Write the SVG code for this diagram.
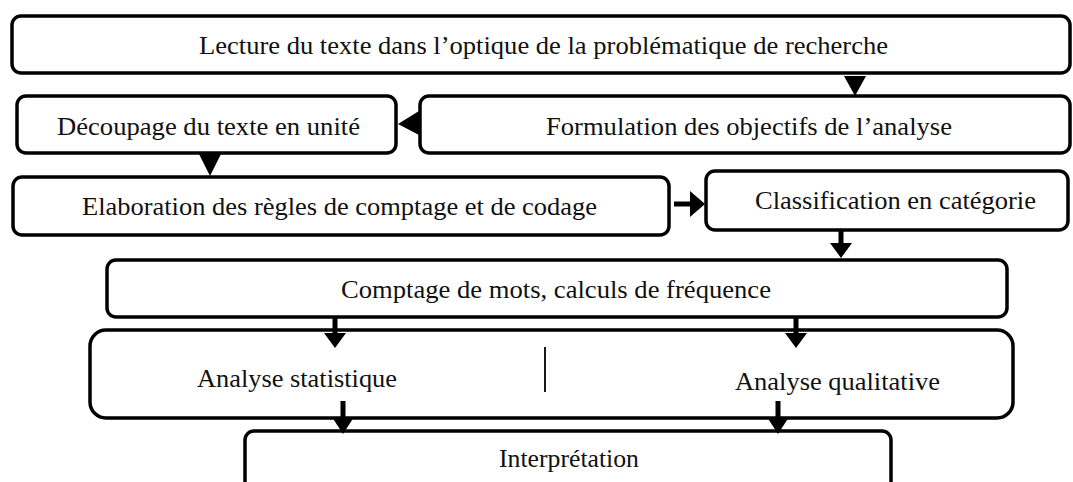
<svg xmlns="http://www.w3.org/2000/svg" width="1073" height="482" viewBox="0 0 1073 482">
<style>
.box{fill:#fff;stroke:#000;stroke-width:3.5}
.t{font-family:"Liberation Serif","Times New Roman",serif;font-size:25px;fill:#111;text-anchor:middle}
.ar{fill:#000;stroke:none}
.sh{stroke:#000;stroke-width:5;fill:none}
</style>
<rect width="1073" height="482" fill="#fff"/>
<g id="n1"><rect class="box" x="12" y="16" width="1058" height="57" rx="9"/><text class="t" x="543.5" y="54" textLength="689" lengthAdjust="spacingAndGlyphs">Lecture du texte dans l’optique de la problématique de recherche</text></g>
<g id="n2"><rect class="box" x="17" y="96" width="379" height="57" rx="9"/><text class="t" x="208.5" y="135" textLength="303" lengthAdjust="spacingAndGlyphs">Découpage du texte en unité</text></g>
<g id="n3"><rect class="box" x="420" y="96" width="650" height="57" rx="9"/><text class="t" x="749" y="135" textLength="406" lengthAdjust="spacingAndGlyphs">Formulation des objectifs de l’analyse</text></g>
<g id="n4"><rect class="box" x="13" y="177" width="656" height="58" rx="9"/><text class="t" x="339.5" y="215" textLength="515" lengthAdjust="spacingAndGlyphs">Elaboration des règles de comptage et de codage</text></g>
<g id="n5"><rect class="box" x="706" y="171" width="362" height="59" rx="9"/><text class="t" x="895.5" y="209" textLength="281" lengthAdjust="spacingAndGlyphs">Classification en catégorie</text></g>
<g id="n6"><rect class="box" x="107" y="260" width="900" height="57" rx="9"/><text class="t" x="556" y="298" textLength="430" lengthAdjust="spacingAndGlyphs">Comptage de mots, calculs de fréquence</text></g>
<g id="n7"><rect class="box" x="90" y="330" width="923" height="88" rx="16"/><line x1="545" y1="347" x2="545" y2="392" stroke="#000" stroke-width="1.8"/><text class="t" x="297" y="387" textLength="200" lengthAdjust="spacingAndGlyphs">Analyse statistique</text><text class="t" x="837.5" y="390" textLength="205" lengthAdjust="spacingAndGlyphs">Analyse qualitative</text></g>
<g id="n8"><rect class="box" x="245" y="431" width="646" height="62" rx="9"/><text class="t" x="569" y="467" textLength="140" lengthAdjust="spacingAndGlyphs">Interprétation</text></g>
<g id="connectors">
<polygon class="ar" points="844,76 866,76 855,96"/>
<polygon class="ar" points="419,111 419,135 398,124"/>
<polygon class="ar" points="199,154 221,154 210,176"/>
<line class="sh" x1="674" y1="204" x2="692" y2="204"/><polygon class="ar" points="690,191 690,217 705,204"/>
<line class="sh" x1="841" y1="231" x2="841" y2="245"/><polygon class="ar" points="830,243 852,243 841,258"/>
<line class="sh" x1="335" y1="317" x2="335" y2="335"/><polygon class="ar" points="324,333 346,333 335,348"/>
<line class="sh" x1="796" y1="317" x2="796" y2="335"/><polygon class="ar" points="785,333 807,333 796,348"/>
<line class="sh" x1="343" y1="401" x2="343" y2="420"/><polygon class="ar" points="332,417 354,417 343,434"/>
<line class="sh" x1="778" y1="401" x2="778" y2="420"/><polygon class="ar" points="767,417 789,417 778,434"/>
</g>
</svg>
